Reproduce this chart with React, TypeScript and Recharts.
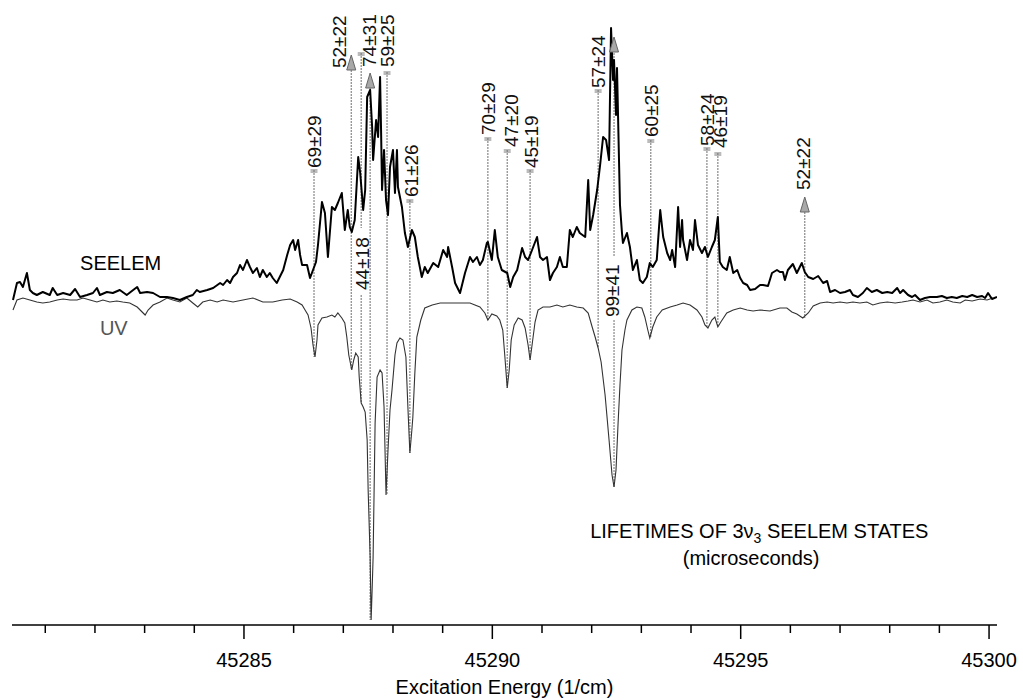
import React from "react";
import { ComposedChart, Line, XAxis, YAxis, Scatter, ReferenceLine } from "recharts";

// SEELEM signal (excitation energy in 1/cm, relative intensity)
const seelemTrace: [number, number][] = [
  [45280.35, 0], [45280.43, 17], [45280.49, 18], [45280.55, 13], [45280.63, 27], [45280.69, 10], [45280.75, 7], [45280.83, 5],
  [45280.95, 8], [45281.09, 5], [45281.15, 12], [45281.24, 5], [45281.36, 7], [45281.5, 5], [45281.6, 11], [45281.7, 3],
  [45281.84, 5], [45281.96, 7], [45282.04, 12], [45282.1, 5], [45282.24, 8], [45282.36, 7], [45282.5, 10], [45282.64, 5],
  [45282.77, 10], [45282.85, 13], [45282.91, 7], [45283.05, 8], [45283.17, 7], [45283.31, 3], [45283.45, 3], [45283.57, 2],
  [45283.71, 0], [45283.85, 3], [45283.97, 5], [45284.05, 10], [45284.11, 8], [45284.26, 10], [45284.38, 12], [45284.52, 17],
  [45284.58, 15], [45284.66, 20], [45284.72, 17], [45284.78, 23], [45284.86, 27], [45284.92, 35], [45284.98, 30], [45285.06, 40],
  [45285.12, 33], [45285.18, 27], [45285.26, 32], [45285.32, 23], [45285.38, 30], [45285.46, 23], [45285.52, 27], [45285.58, 22],
  [45285.66, 17], [45285.72, 23], [45285.79, 30], [45285.87, 45], [45285.93, 55], [45285.99, 60], [45286.03, 50], [45286.09, 60],
  [45286.13, 45], [45286.17, 35], [45286.27, 35], [45286.33, 22], [45286.39, 30], [45286.45, 38], [45286.49, 55], [45286.57, 98],
  [45286.63, 87], [45286.69, 43], [45286.77, 93], [45286.83, 90], [45286.89, 97], [45286.97, 107], [45287.03, 70], [45287.09, 90],
  [45287.13, 73], [45287.17, 68], [45287.23, 80], [45287.3, 143], [45287.34, 127], [45287.4, 90], [45287.44, 110], [45287.48, 203],
  [45287.54, 210], [45287.58, 173], [45287.6, 140], [45287.66, 180], [45287.7, 163], [45287.74, 223], [45287.76, 170], [45287.78, 110],
  [45287.82, 150], [45287.86, 100], [45287.9, 85], [45287.94, 133], [45288.0, 150], [45288.04, 107], [45288.08, 150], [45288.1, 113],
  [45288.18, 93], [45288.24, 67], [45288.3, 53], [45288.38, 70], [45288.44, 63], [45288.5, 43], [45288.58, 23], [45288.64, 33],
  [45288.7, 27], [45288.81, 37], [45288.91, 33], [45289.01, 50], [45289.09, 43], [45289.11, 53], [45289.19, 33], [45289.25, 17],
  [45289.35, 7], [45289.45, 27], [45289.55, 43], [45289.61, 38], [45289.69, 43], [45289.75, 35], [45289.81, 40], [45289.89, 57],
  [45289.91, 58], [45289.99, 40], [45290.05, 70], [45290.11, 43], [45290.19, 30], [45290.3, 27], [45290.36, 13], [45290.42, 23],
  [45290.5, 30], [45290.6, 52], [45290.66, 43], [45290.72, 40], [45290.8, 50], [45290.9, 63], [45290.96, 43], [45291.02, 40],
  [45291.1, 43], [45291.16, 20], [45291.22, 27], [45291.3, 33], [45291.36, 43], [45291.42, 33], [45291.5, 33], [45291.56, 70],
  [45291.62, 63], [45291.7, 73], [45291.76, 67], [45291.87, 63], [45291.93, 120], [45291.97, 70], [45292.03, 85], [45292.11, 110],
  [45292.17, 135], [45292.23, 163], [45292.29, 160], [45292.35, 140], [45292.39, 272], [45292.43, 220], [45292.45, 240], [45292.49, 185],
  [45292.51, 232], [45292.57, 95], [45292.61, 67], [45292.63, 57], [45292.71, 67], [45292.77, 53], [45292.83, 30], [45292.91, 40],
  [45292.97, 20], [45293.03, 17], [45293.11, 23], [45293.17, 37], [45293.23, 33], [45293.31, 40], [45293.38, 90], [45293.44, 63],
  [45293.52, 47], [45293.58, 40], [45293.62, 50], [45293.68, 33], [45293.74, 93], [45293.78, 53], [45293.82, 80], [45293.84, 60],
  [45293.92, 40], [45293.98, 60], [45294.04, 50], [45294.08, 80], [45294.14, 55], [45294.22, 47], [45294.28, 53], [45294.34, 43],
  [45294.42, 53], [45294.48, 60], [45294.54, 83], [45294.58, 38], [45294.64, 33], [45294.72, 30], [45294.78, 43], [45294.85, 27],
  [45294.93, 30], [45294.99, 22], [45295.05, 17], [45295.13, 15], [45295.19, 10], [45295.29, 11], [45295.39, 15], [45295.45, 15],
  [45295.55, 14], [45295.63, 27], [45295.73, 30], [45295.79, 28], [45295.85, 28], [45295.89, 20], [45295.95, 30], [45296.05, 36],
  [45296.13, 27], [45296.23, 37], [45296.29, 28], [45296.36, 23], [45296.46, 21], [45296.56, 24], [45296.66, 17], [45296.74, 19],
  [45296.8, 8], [45296.9, 10], [45297.0, 7], [45297.1, 8], [45297.2, 10], [45297.26, 5], [45297.36, 3], [45297.46, 7],
  [45297.54, 12], [45297.64, 8], [45297.74, 10], [45297.85, 7], [45297.95, 8], [45298.05, 7], [45298.15, 12], [45298.21, 7],
  [45298.27, 10], [45298.37, 5], [45298.45, 3], [45298.51, 5], [45298.61, 0], [45298.71, 2], [45298.81, 3], [45298.95, 3],
  [45299.05, 4], [45299.15, 2], [45299.25, 3], [45299.35, 2], [45299.46, 4], [45299.56, 3], [45299.66, 5], [45299.76, 3],
  [45299.86, 4], [45299.92, 2], [45299.98, 7], [45300.06, 1], [45300.16, 3],
];

// UV absorption trace
const uvTrace: [number, number][] = [
  [45280.35, -10], [45280.43, 0], [45280.55, 2], [45280.69, 0], [45280.83, -2], [45280.95, -3], [45281.09, -2], [45281.24, 0],
  [45281.36, 1], [45281.5, 0], [45281.64, 0], [45281.76, 2], [45281.9, 0], [45282.04, -2], [45282.16, 0], [45282.3, -2],
  [45282.44, -1], [45282.56, -2], [45282.7, -3], [45282.85, -7], [45282.95, -12], [45283.01, -15], [45283.07, -10], [45283.17, -5],
  [45283.31, -2], [45283.45, 2], [45283.57, 0], [45283.71, -2], [45283.85, 2], [45283.97, -3], [45284.07, -7], [45284.17, -2],
  [45284.32, 0], [45284.46, -2], [45284.58, 0], [45284.78, -2], [45284.98, 0], [45285.18, 2], [45285.38, -2], [45285.58, -2],
  [45285.77, 0], [45285.93, 1], [45286.07, -2], [45286.17, -5], [45286.23, -10], [45286.29, -15], [45286.35, -28], [45286.39, -45],
  [45286.43, -57], [45286.47, -40], [45286.49, -25], [45286.57, -18], [45286.67, -17], [45286.77, -15], [45286.83, -17], [45286.89, -13],
  [45286.97, -18], [45287.03, -23], [45287.07, -37], [45287.11, -55], [45287.17, -70], [45287.21, -60], [45287.25, -53], [45287.3, -57],
  [45287.32, -77], [45287.36, -103], [45287.4, -107], [45287.44, -112], [45287.48, -140], [45287.5, -190], [45287.54, -257], [45287.56, -320],
  [45287.58, -290], [45287.6, -257], [45287.62, -190], [45287.64, -123], [45287.68, -77], [45287.74, -70], [45287.78, -73], [45287.82, -107],
  [45287.86, -195], [45287.9, -150], [45287.94, -110], [45287.98, -90], [45288.04, -55], [45288.08, -43], [45288.14, -38], [45288.2, -40],
  [45288.26, -57], [45288.3, -107], [45288.34, -153], [45288.38, -130], [45288.4, -117], [45288.44, -73], [45288.48, -37], [45288.56, -20],
  [45288.64, -8], [45288.79, -5], [45288.95, -3], [45289.15, -3], [45289.35, -3], [45289.55, -3], [45289.75, -7], [45289.85, -13],
  [45289.91, -20], [45289.99, -14], [45290.09, -16], [45290.15, -20], [45290.21, -30], [45290.25, -55], [45290.3, -88], [45290.34, -70],
  [45290.38, -40], [45290.44, -25], [45290.52, -18], [45290.6, -20], [45290.66, -28], [45290.72, -45], [45290.76, -60], [45290.8, -45],
  [45290.86, -22], [45290.92, -10], [45291.02, -7], [45291.16, -7], [45291.3, -5], [45291.42, -7], [45291.56, -5], [45291.7, -7],
  [45291.83, -8], [45291.93, -13], [45292.01, -27], [45292.07, -37], [45292.13, -48], [45292.19, -62], [45292.27, -95], [45292.35, -140],
  [45292.41, -175], [45292.45, -187], [45292.49, -170], [45292.53, -125], [45292.57, -85], [45292.61, -50], [45292.67, -30], [45292.71, -20],
  [45292.81, -10], [45292.91, -7], [45293.01, -8], [45293.07, -17], [45293.13, -30], [45293.17, -38], [45293.23, -27], [45293.31, -17],
  [45293.42, -10], [45293.58, -7], [45293.72, -5], [45293.84, -3], [45293.98, -5], [45294.12, -10], [45294.22, -17], [45294.28, -25],
  [45294.34, -28], [45294.42, -20], [45294.48, -17], [45294.54, -27], [45294.6, -22], [45294.72, -13], [45294.85, -10], [45294.99, -8],
  [45295.13, -10], [45295.25, -11], [45295.39, -10], [45295.59, -11], [45295.79, -8], [45295.93, -8], [45296.03, -12], [45296.13, -14],
  [45296.25, -18], [45296.36, -13], [45296.46, -6], [45296.6, -3], [45296.74, -2], [45296.86, -3], [45297.0, -2], [45297.14, -3],
  [45297.26, -2], [45297.4, -3], [45297.54, -2], [45297.66, -5], [45297.8, -3], [45297.95, -2], [45298.11, -3], [45298.25, -2],
  [45298.37, -1], [45298.47, 0], [45298.61, -2], [45298.75, 0], [45298.87, -3], [45299.01, -2], [45299.15, 0], [45299.27, -2],
  [45299.42, -3], [45299.52, 0], [45299.66, -1], [45299.82, 1], [45299.96, 0], [45300.08, 2],
];

// Lifetime labels (microseconds): text, energy, intensity where the text starts
const lifetimeLabels: [string, number, number][] = [
  ["69±29", 45286.41, 132], ["52±22", 45286.91, 232], ["44±18", 45287.38, 10], ["74±31", 45287.52, 233],
  ["59±25", 45287.88, 233], ["61±26", 45288.36, 103], ["70±29", 45289.91, 165], ["47±20", 45290.38, 153],
  ["45±19", 45290.78, 132], ["57±24", 45292.13, 212], ["99±41", 45292.41, -17], ["60±25", 45293.19, 163],
  ["58±24", 45294.32, 154], ["46±19", 45294.58, 152], ["52±22", 45296.25, 110],
];

// Dotted marker lines: energy, upper intensity, lower intensity
const markerLines: [number, number, number][] = [
  [45286.41, 130, -57], [45287.16, 230, -70], [45287.36, 247, 72], [45287.36, 5, -103],
  [45287.54, 212, -320], [45287.88, 228, -195], [45288.34, 100, -153], [45289.91, 162, -20],
  [45290.3, 150, -88], [45290.76, 130, -60], [45292.13, 210, -48], [45292.45, 250, 44],
  [45292.45, -20, -187], [45293.19, 160, -38], [45294.32, 152, -28], [45294.54, 147, -27],
  [45296.29, 88, -18],
];

// Arrow tips (energy, intensity)
const arrowTips: [number, number][] = [
  [45287.16, 245], [45287.54, 227], [45292.45, 263], [45296.29, 103],
];

// Small caps at the top of marker lines
const lineCaps: [number, number][] = [
  [45286.41, 130], [45287.36, 247], [45287.88, 228], [45288.34, 100], [45289.91, 162], [45290.3, 150],
  [45290.76, 130], [45292.13, 210], [45293.19, 160], [45294.32, 152], [45294.54, 147],
];

const xTicks = [45281, 45282, 45283, 45284, 45285, 45286, 45287, 45288, 45289, 45290, 45291, 45292, 45293, 45294, 45295, 45296, 45297, 45298, 45299, 45300];
const majorTicks = [45285, 45290, 45295, 45300];

const seelemData = seelemTrace.map(([e, v]) => ({ e, v }));
const uvData = uvTrace.map(([e, v]) => ({ e, v }));
const labelData = lifetimeLabels.map(([text, e, v]) => ({ text, e, v }));
const arrowData = arrowTips.map(([e, v]) => ({ e, v }));
const capData = lineCaps.map(([e, v]) => ({ e, v }));
const textData = [
  { e: 45281.7, v: 30, text: "SEELEM" },
  { e: 45282.1, v: -35, text: "UV" },
];
const captionData = [
  { e: 45291.97, v: -238, kind: "title" },
  { e: 45295.21, v: -265, kind: "unit" },
];

const FONT = "'Liberation Sans', Arial, Helvetica, sans-serif";

const AxisTick = (props: any) => {
  const { x, y, payload } = props;
  const major = majorTicks.includes(payload.value);
  return (
    <g>
      <line x1={x} x2={x} y1={y} y2={y + (major ? 14 : 8)} stroke="#000" strokeWidth={1.5} />
      {major && (
        <text x={x} y={y + 42} textAnchor="middle" fontSize={20} fontFamily={FONT} fill="#000">
          {payload.value}
        </text>
      )}
    </g>
  );
};

const RotatedLabel = (props: any) => {
  const { cx, cy, payload } = props;
  return (
    <text
      x={cx}
      y={cy}
      dy="0.36em"
      transform={`rotate(-90 ${cx} ${cy})`}
      textAnchor="start"
      fontSize={19}
      fontFamily={FONT}
      fill="#111"
    >
      {payload.text}
    </text>
  );
};

const ArrowHead = (props: any) => {
  const { cx, cy } = props;
  return (
    <path
      d={`M ${cx} ${cy} L ${cx - 4.5} ${cy + 15} L ${cx + 4.5} ${cy + 15} Z`}
      fill="#a8a8a8"
      stroke="#666"
      strokeWidth={1}
    />
  );
};

const Cap = (props: any) => {
  const { cx, cy } = props;
  return (
    <g stroke="#777" strokeWidth={1}>
      <line x1={cx - 3.5} x2={cx + 3.5} y1={cy} y2={cy} />
      <line x1={cx - 3.5} x2={cx + 3.5} y1={cy + 2} y2={cy + 2} />
    </g>
  );
};

const TraceName = (props: any) => {
  const { cx, cy, payload } = props;
  const uv = payload.text === "UV";
  return (
    <text x={cx} y={cy} fontSize={20} fontFamily={FONT} fill={uv ? "#555" : "#000"}>
      {payload.text}
    </text>
  );
};

const Caption = (props: any) => {
  const { cx, cy, payload } = props;
  if (payload.kind === "title") {
    return (
      <text x={cx} y={cy} textAnchor="start" fontFamily={FONT} fontSize={20} fill="#000">
        LIFETIMES OF 3ν<tspan dy={5} fontSize={14}>3</tspan>
        <tspan dy={-5}> SEELEM STATES</tspan>
      </text>
    );
  }
  return (
    <text x={cx} y={cy} textAnchor="middle" fontFamily={FONT} fontSize={20} fill="#000">
      (microseconds)
    </text>
  );
};

export default function App() {
  return (
    <div style={{ position: "absolute", left: 0, top: 0, background: "#fff" }}>
      <ComposedChart width={1023} height={700} margin={{ top: 10, right: 26, bottom: 0, left: 12 }}>
        <XAxis
          dataKey="e"
          type="number"
          domain={[45280.33, 45300.16]}
          ticks={xTicks}
          tick={<AxisTick />}
          tickLine={false}
          tickSize={0}
          tickMargin={0}
          height={75}
          axisLine={{ stroke: "#000", strokeWidth: 1.6 }}
          allowDataOverflow
          interval={0}
          label={{
            value: "Excitation Energy (1/cm)",
            position: "insideBottom",
            offset: 6,
            fontSize: 20,
            fontFamily: FONT,
            fill: "#000",
          }}
        />
        <YAxis type="number" domain={[-325, 290]} hide allowDataOverflow />
        {markerLines.map(([e, top, bottom], i) => (
          <ReferenceLine
            key={`ml${i}`}
            segment={[{ x: e, y: top }, { x: e, y: bottom }]}
            stroke="#888"
            strokeWidth={1.2}
            strokeDasharray="2 1"
            ifOverflow="visible"
          />
        ))}
        <Line data={uvData} dataKey="v" type="linear" stroke="#333" strokeWidth={1.1} dot={false} isAnimationActive={false} />
        <Line
          data={seelemData}
          dataKey="v"
          type="linear"
          stroke="#000"
          strokeWidth={2}
          strokeLinejoin="round"
          dot={false}
          isAnimationActive={false}
        />
        <Scatter data={capData} dataKey="v" shape={<Cap />} isAnimationActive={false} />
        <Scatter data={arrowData} dataKey="v" shape={<ArrowHead />} isAnimationActive={false} />
        <Scatter data={labelData} dataKey="v" shape={<RotatedLabel />} isAnimationActive={false} />
        <Scatter data={textData} dataKey="v" shape={<TraceName />} isAnimationActive={false} />
        <Scatter data={captionData} dataKey="v" shape={<Caption />} isAnimationActive={false} />
      </ComposedChart>
    </div>
  );
}
